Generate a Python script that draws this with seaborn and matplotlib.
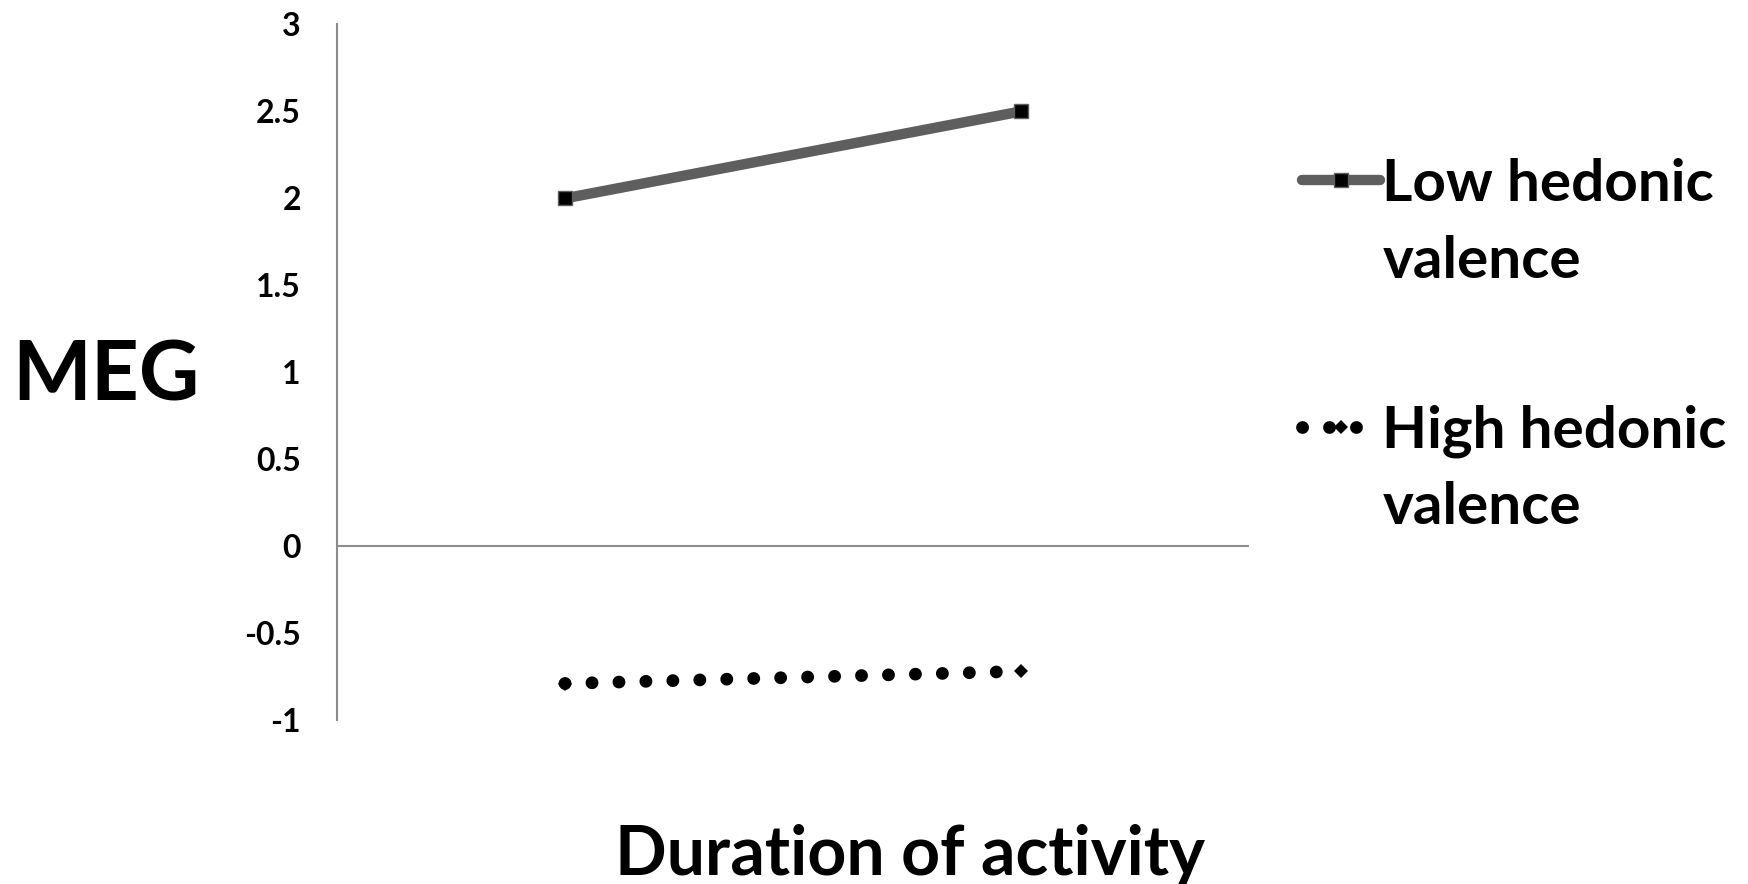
import numpy as np
import pandas as pd
import matplotlib.pyplot as plt
import seaborn as sns
from matplotlib.legend_handler import HandlerLine2D

# values
duration = ["Short", "Long"]
low_hedonic = [2.0, 2.5]
high_hedonic = [-0.79, -0.72]
groups = ["Low hedonic\nvalence", "High hedonic\nvalence"]
y_ticks = [-1, -0.5, 0, 0.5, 1, 1.5, 2, 2.5, 3]

df = pd.DataFrame({
    "duration": duration * 2,
    "MEG": low_hedonic + high_hedonic,
    "group": [groups[0]] * 2 + [groups[1]] * 2,
})


# legend key sits on the first line of the two-line label
class FirstLineHandler(HandlerLine2D):
    def create_artists(self, legend, orig_handle, xdescent, ydescent, width, height, fontsize, trans):
        artists = super().create_artists(legend, orig_handle, xdescent, ydescent,
                                         width, height, fontsize, trans)
        for a in artists:
            a.set_ydata(np.asarray(a.get_ydata()) + 0.75 * fontsize)
        return artists


sns.set_style("white")
plt.rcParams['lines.dash_capstyle'] = 'round'
plt.rcParams['text.color'] = 'black'
plt.rcParams['ytick.color'] = 'black'
GREY = '#5e5e5e'
AXIS = '#8c8c8c'

fig = plt.figure(figsize=(17.48, 8.84), dpi=100)
ax = fig.add_axes([0.1928, 0.1855, 0.5217, 0.7868])

sns.lineplot(data=df[df["group"] == groups[0]], x="duration", y="MEG", sort=False,
             color=GREY, linewidth=7.5, marker="s", markersize=10.5,
             markerfacecolor="black", markeredgecolor=GREY, markeredgewidth=1,
             label=groups[0], ax=ax)
sns.lineplot(data=df[df["group"] == groups[1]], x="duration", y="MEG", sort=False,
             color="black", linewidth=9.2, linestyle=(0, (0.01, 2.1)),
             marker="D", markersize=7.5, markeredgewidth=0,
             label=groups[1], ax=ax)

ax.set_xlim(-0.5, 1.5)
ax.set_ylim(-1, 3)
ax.set_xticks([])
ax.set_yticks(y_ticks)
ax.set_yticklabels([f"{v:g}" for v in y_ticks], fontsize=23, fontweight='bold',
                   family='Lato')
ax.tick_params(axis='y', length=0, pad=26)
ax.set_xlabel("")
ax.set_ylabel("")
for s in ['top', 'right', 'bottom']:
    ax.spines[s].set_visible(False)
ax.spines['left'].set_color(AXIS)
ax.spines['left'].set_linewidth(1.5)
ax.axhline(0, color=AXIS, linewidth=1.5, zorder=0)

handles, labels = ax.get_legend_handles_labels()
ax.get_legend().remove()
leg = fig.legend(handles, labels, loc='upper left', bbox_to_anchor=(1302 / 1748, 1 - 158 / 884),
                 frameon=False, prop={'family': 'Lato', 'weight': 'bold', 'size': 42},
                 handlelength=1.33, handletextpad=0.05, labelspacing=2.0,
                 borderpad=0, borderaxespad=0,
                 handler_map={h: FirstLineHandler() for h in handles})
for t in leg.get_texts():
    t.set_linespacing(1.55)

fig.text(106 / 1748, 1 - 377 / 884, "MEG", fontsize=60, fontweight='bold',
         family='Lato', ha='center', va='center')
fig.text(910 / 1748, 9 / 884, "Duration of activity", fontsize=49, fontweight='bold',
         family='Lato', ha='center', va='baseline')

fig.savefig("out.png", dpi=100, facecolor='white')
